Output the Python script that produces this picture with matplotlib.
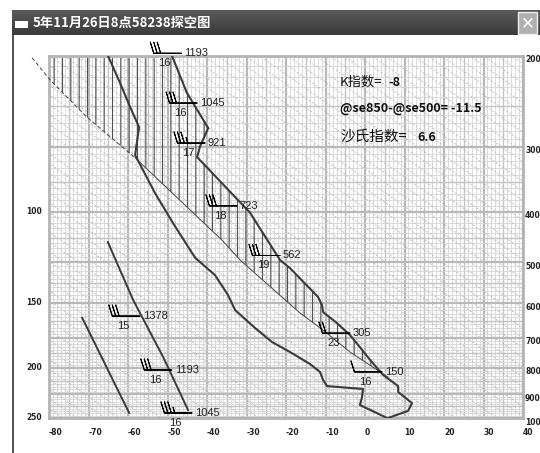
import numpy as np
import matplotlib
matplotlib.use('Agg')
import matplotlib.pyplot as plt
from matplotlib.patches import Rectangle
from matplotlib.transforms import blended_transform_factory

plt.rcParams['font.family'] = ['Noto Sans CJK SC', 'DejaVu Sans']
plt.rcParams['hatch.linewidth'] = 0.8

title = '5年11月26日8点58238探空图'

# environment temperature (C) vs pressure (hPa)
p_temp = [200, 236, 276, 300, 314, 402, 496, 514, 584, 605, 625, 656, 692, 730,
          773, 826, 868, 891, 936, 969, 1000]
t_temp = [-48.9, -45.1, -39.7, -41.8, -42.5, -29.1, -21.5, -19.0, -11.9, -10.9,
          -10.6, -7.1, -3.8, -1.3, 1.3, 4.6, 8.4, 8.4, 11.9, 10.9, 5.8]

# dew point
p_dew = [200, 226, 251, 275, 311, 368, 421, 491, 530, 579, 619, 671, 714, 746,
         787, 815, 845, 868, 879, 915, 944, 1000]
t_dew = [-65.1, -62.0, -59.5, -57.2, -58.2, -53.2, -48.6, -43.0, -38.0, -34.7,
         -32.9, -27.8, -23.5, -19.0, -13.9, -11.4, -10.6, -9.6, -0.5, -0.8, -1.3, 5.6]

# lifted parcel (dashed above 315 hPa)
p_parcel = [202, 223, 263, 315, 454, 496, 627, 677, 746, 834]
t_parcel = [-84.3, -79.7, -70.4, -58.2, -36.2, -31.6, -16.5, -10.6, -3.8, 5.8]

# upper levels (100-250 hPa, left scale) drawn in the lower left
p_up_t = [458, 592, 763, 965]
t_up_t = [-65.1, -58.7, -51.1, -44.8]
p_up_d = [641, 978]
t_up_d = [-71.6, -59.7]

# winds
barb_p = [198, 247, 295, 390, 486, 686, 815]
barb_t = [-46.5, -42.5, -40.5, -32.4, -21.5, -3.8, 4.3]
barb_spd = [30, 30, 35, 30, 30, 20, 10]
barb_hgt = [1193, 1045, 921, 723, 562, 305, 150]
barb_lab = [16, 16, 17, 18, 19, 23, 16]

barb2_p = [636, 808, 978]
barb2_t = [-57.0, -48.9, -43.8]
barb2_spd = [30, 30, 35]
barb2_hgt = [1378, 1193, 1045]
barb2_lab = [15, 16, 16]

p_ticks = [200, 300, 400, 500, 600, 700, 800, 900, 1000]
t_ticks = list(range(-80, 41, 10))
left_lab = ['100', '150', '200', '250']
left_p = [400, 600, 800, 1000]

k_index = '-8'
se_diff = '-11.5'
si_index = '6.6'

W, H = 540, 453
fig = plt.figure(figsize=(W / 100, H / 100), dpi=100)
fig.patch.set_facecolor('white')

# window chrome
bar = fig.add_axes([12 / W, 1 - 35 / H, (W - 12) / W, 25 / H])
grad = np.linspace(0, 1, 50).reshape(-1, 1)
bar.imshow(grad, aspect='auto', cmap=matplotlib.colors.LinearSegmentedColormap.from_list(
    'tb', ['#5a5a5a', '#3a3a3a']), extent=[0, 1, 0, 1])
bar.set_xlim(0, 1)
bar.set_ylim(0, 1)
bar.axis('off')
fig.patches.append(Rectangle((15 / W, 1 - 28 / H), 13 / W, 7 / H, transform=fig.transFigure,
                             facecolor='white', edgecolor='none'))
fig.text(33 / W, 1 - 23 / H, title, color='white', fontsize=9.5, fontweight='bold',
         va='center', ha='left')
fig.patches.append(Rectangle((518 / W, 1 - 34 / H), 19 / W, 22 / H, transform=fig.transFigure,
                             facecolor='#b0b0b0', edgecolor='#f0f0f0', lw=1))
fig.text(527.5 / W, 1 - 23.5 / H, '✕', color='white', fontsize=12, fontweight='bold',
         ha='center', va='center', family='DejaVu Sans')
fig.add_artist(plt.Line2D([13 / W, 13 / W], [0, 1 - 35 / H], transform=fig.transFigure,
                          color='#333333', lw=1.2))

ax = fig.add_axes([49 / W, 1 - 418 / H, 474 / W, 362.5 / H])
ax.set_yscale('log')
ax.set_xlim(-80, 40)
ax.set_ylim(1000, 200)
ax.set_xticks([])
ax.set_yticks([])
ax.yaxis.set_minor_locator(matplotlib.ticker.NullLocator())
for s in ax.spines.values():
    s.set_color('#b4b4b4')
    s.set_linewidth(2)

# grid
for t in range(-80, 41):
    if t % 10 == 0:
        ax.axvline(t, color='#b8b8b8', lw=1.6, zorder=1)
    elif t % 5 == 0:
        ax.axvline(t, color='#c4c4c4', lw=1.0, zorder=1)
    else:
        ax.axvline(t, color='#d6d6d6', lw=0.6, zorder=1)
for p in range(200, 1001, 10):
    if p % 100 == 0:
        ax.axhline(p, color='#b8b8b8', lw=1.6, zorder=1)
    elif p % 50 == 0:
        ax.axhline(p, color='#c4c4c4', lw=1.0, zorder=1)
    else:
        ax.axhline(p, color='#d6d6d6', lw=0.6, zorder=1)
# dashed diagonals
slope = 0.7 * 474 / 362.5
for c in np.arange(0.0, 2.4, 14 / 474):
    xs = np.array([c - 1.5, c])
    ys = (c - xs) * slope
    ax.plot(xs, ys, transform=ax.transAxes, color='#bdbdbd', lw=0.6,
            dashes=(2.5, 2), zorder=1.5)

# hatch between parcel and environment
pg = np.geomspace(p_parcel[0], p_parcel[-1], 200)
lp = np.log(pg)
tp = np.interp(lp, np.log(p_parcel), t_parcel)
te = np.interp(lp, np.log(p_temp), t_temp)
ax.fill_betweenx(pg, tp, te, facecolor='none', edgecolor='#505050', hatch='||',
                 linewidth=0, zorder=2)

# curves
ax.plot(t_temp, p_temp, color='#3a3a3a', lw=1.5, zorder=4)
ax.plot(t_dew, p_dew, color='#3a3a3a', lw=1.5, zorder=4)
ax.plot(t_up_t, p_up_t, color='#3a3a3a', lw=1.4, zorder=4)
ax.plot(t_up_d, p_up_d, color='#3a3a3a', lw=1.4, zorder=4)
ax.plot(t_parcel[:4], p_parcel[:4], color='#444444', lw=0.7, dashes=(4, 2.5),
        zorder=3, clip_on=False)
ax.plot(t_parcel[3:], p_parcel[3:], color='#444444', lw=0.7, zorder=3)

# winds
def draw_winds(ts, ps, spd, hgt, lab):
    ax.barbs(ts, ps, spd, [0] * len(spd), length=6.3, linewidth=0.7, color='black',
             zorder=5, clip_on=False)
    for t, p, h, l in zip(ts, ps, hgt, lab):
        ax.annotate(str(h), (t, p), xytext=(2, 0), textcoords='offset points',
                    ha='left', va='center', fontsize=8, family='Liberation Sans',
                    color='#222222', zorder=6, annotation_clip=False)
        ax.annotate(str(l), (t, p), xytext=(-12, -7), textcoords='offset points',
                    ha='center', va='center', fontsize=8, family='Liberation Sans',
                    color='#222222', zorder=6, annotation_clip=False)

draw_winds(barb_t, barb_p, barb_spd, barb_hgt, barb_lab)
draw_winds(barb2_t, barb2_p, barb2_spd, barb2_hgt, barb2_lab)

# axis labels
bx = blended_transform_factory(ax.transData, ax.transAxes)
for t in t_ticks:
    ax.text(t, -0.041, str(t), transform=bx, ha='left', va='center', fontsize=5.5,
            fontweight='bold', family='DejaVu Sans', color='#222222')
by = blended_transform_factory(ax.transAxes, ax.transData)
for p in p_ticks:
    ax.annotate(str(p), (1, p), xycoords=by, xytext=(1.5, -3), textcoords='offset points',
                ha='left', va='center', fontsize=5.5, fontweight='bold', family='DejaVu Sans',
                color='#222222', annotation_clip=False)
for s, p in zip(left_lab, left_p):
    ax.annotate(s, (0, p), xycoords=by, xytext=(-5, 0), textcoords='offset points',
                ha='right', va='center', fontsize=5.5, fontweight='bold', family='DejaVu Sans',
                color='#222222', annotation_clip=False)

# indices
tx = (340 - 49) / 474
ax.text(tx, (418 - 82) / 362.5, 'K指数=', transform=ax.transAxes, fontsize=9.5,
        va='center', ha='left', color='#111111')
ax.text((388 - 49) / 474, (418 - 82) / 362.5, k_index, transform=ax.transAxes, fontsize=9,
        fontweight='bold', va='center', ha='left', color='#111111')
ax.text(tx, (418 - 108) / 362.5, '@se850-@se500= ' + se_diff, transform=ax.transAxes,
        fontsize=9, fontweight='bold', va='center', ha='left', color='#111111')
ax.text(tx, (418 - 137) / 362.5, '沙氏指数=', transform=ax.transAxes, fontsize=10.5,
        va='center', ha='left', color='#111111')
ax.text((417 - 49) / 474, (418 - 137) / 362.5, si_index, transform=ax.transAxes, fontsize=9,
        fontweight='bold', va='center', ha='left', color='#111111')

fig.savefig('out.png', dpi=100)
